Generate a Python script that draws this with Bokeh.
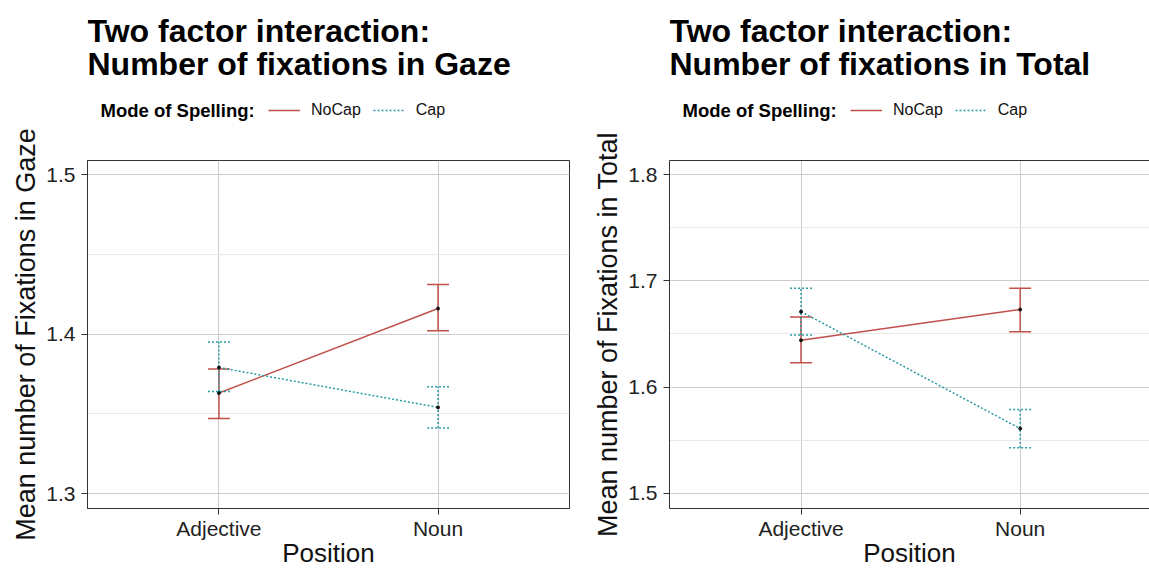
from bokeh.plotting import figure
from bokeh.models import (ColumnDataSource, Range1d, FixedTicker, Label, Legend,
                          LegendItem, LinearAxis)
from bokeh.layouts import row, column
from bokeh.embed import file_html
from bokeh.resources import INLINE

# ---- data -------------------------------------------------------------
positions = ["Adjective", "Noun"]
modes = ["NoCap", "Cap"]

gaze_nocap_mean = [1.363, 1.416]
gaze_nocap_lower = [1.347, 1.402]
gaze_nocap_upper = [1.378, 1.431]
gaze_cap_mean = [1.379, 1.354]
gaze_cap_lower = [1.364, 1.341]
gaze_cap_upper = [1.395, 1.367]

total_nocap_mean = [1.644, 1.673]
total_nocap_lower = [1.623, 1.652]
total_nocap_upper = [1.666, 1.693]
total_cap_mean = [1.671, 1.561]
total_cap_lower = [1.649, 1.543]
total_cap_upper = [1.693, 1.579]

gaze_ticks = [1.3, 1.4, 1.5]
gaze_minor = [1.35, 1.45]
total_ticks = [1.5, 1.6, 1.7, 1.8]
total_minor = [1.55, 1.65, 1.75]

# ---- styling ------------------------------------------------------------
FONT = "Liberation Sans"
RED = "#C1504A"
TEAL = "#2A9AA3"
DARK = "#333333"
MAJOR_GRID = "#cdcdcd"
MINOR_GRID = "#e8e8e8"
CAP_HALF = 0.05
HEADER_H = 127
STYLES = [(RED, "solid"), (TEAL, "2 2")]
XS = [i + 1 for i in range(len(positions))]


def header(title2, width, series):
    """Two-line title and the horizontal 'Mode of Spelling' key."""
    h = figure(width=width, height=HEADER_H, output_backend="svg",
               toolbar_location=None, title_location=None,
               x_axis_type=None, y_axis_type=None,
               x_range=Range1d(10, 11), y_range=Range1d(0, 1), min_border=0)
    h.outline_line_color = None
    h.grid.visible = False
    h.background_fill_color = "white"
    h.border_fill_color = "white"

    for text, mid in (("Two factor interaction:", 30), (title2, 63.5)):
        h.add_layout(Label(x=0, y=HEADER_H - mid, x_units="screen",
                           y_units="screen", text=text, text_font=FONT,
                           text_font_size="32px", text_font_style="bold",
                           text_color="black", text_baseline="middle"))

    h.add_layout(Label(x=13, y=HEADER_H - 110.4, x_units="screen",
                       y_units="screen", text="Mode of Spelling:", text_font=FONT,
                       text_font_size="18.5px", text_font_style="bold",
                       text_color="black", text_baseline="middle"))

    # key lines: same series, outside this strip's visible x range
    keys = [h.line(x=XS, y=mean, line_color=c, line_width=1.5, line_dash=d)
            for (mean, _, _), (c, d) in zip(series, STYLES)]
    legend = Legend(items=[LegendItem(label=m, renderers=[r]) for m, r in zip(modes, keys)],
                    orientation="horizontal",
                    location=(181, HEADER_H - 120),
                    padding=0, margin=0, spacing=12, label_standoff=11,
                    glyph_width=32, glyph_height=20, label_height=20,
                    background_fill_alpha=0, border_line_color=None,
                    label_text_font=FONT, label_text_font_size="16px",
                    label_text_color="#111111")
    h.add_layout(legend)
    return h


def draw_series(p, mean, lower, upper, color, dash):
    src = ColumnDataSource(dict(
        x=XS, mean=mean, lower=lower, upper=upper,
        xl=[x - CAP_HALF for x in XS], xr=[x + CAP_HALF for x in XS]))
    kw = dict(source=src, line_color=color, line_width=1.5, line_dash=dash)
    p.segment(x0="x", y0="lower", x1="x", y1="upper", **kw)
    p.segment(x0="xl", y0="upper", x1="xr", y1="upper", **kw)
    p.segment(x0="xl", y0="lower", x1="xr", y1="lower", **kw)
    p.line(x="x", y="mean", **kw)
    p.scatter(x="x", y="mean", source=src, size=3, color="#111111")


def panel(ylabel, series, y_start, y_end, ticks, minor,
          width, border_left, border_right, x_end, boxed):
    p = figure(width=width, height=570 - HEADER_H, output_backend="svg",
               toolbar_location=None, title_location=None,
               x_range=Range1d(0.4, x_end), y_range=Range1d(y_start, y_end),
               min_border_left=border_left, min_border_right=border_right,
               min_border_top=160 - HEADER_H, min_border_bottom=62)
    p.background_fill_color = "white"
    p.border_fill_color = "white"
    if boxed:
        p.outline_line_color = DARK
    else:
        # open on the right: draw only the top edge besides the two axes
        p.outline_line_color = None
        top = LinearAxis(ticker=FixedTicker(ticks=[]),
                         major_label_text_font_size="0px",
                         major_tick_in=0, major_tick_out=0,
                         minor_tick_in=0, minor_tick_out=0,
                         major_label_standoff=0,
                         major_tick_line_color=None,
                         minor_tick_line_color=None,
                         axis_line_color=DARK)
        p.add_layout(top, "above")

    xaxis = p.below[0]
    yaxis = p.left[0]
    xaxis.ticker = FixedTicker(ticks=XS)
    xaxis.major_label_overrides = {x: name for x, name in zip(XS, positions)}
    yaxis.ticker = FixedTicker(ticks=ticks, minor_ticks=minor)
    for ax in (xaxis, yaxis):
        ax.axis_line_color = DARK
        ax.major_tick_line_color = DARK
        ax.major_tick_in = 0
        ax.major_tick_out = 6
        ax.minor_tick_line_color = None
        ax.major_label_text_font = FONT
        ax.major_label_text_font_size = "21px"
        ax.major_label_text_color = "#222222"
        ax.axis_label_text_font = FONT
        ax.axis_label_text_font_style = "normal"
        ax.axis_label_text_color = "#111111"
    xaxis.axis_label_text_font_size = "26px"
    yaxis.axis_label_text_font_size = "27px"
    xaxis.axis_label = "Position"
    yaxis.axis_label = ylabel
    xaxis.major_label_standoff = 2
    xaxis.axis_label_standoff = -5
    yaxis.major_label_standoff = 6
    yaxis.axis_label_standoff = 2

    p.xgrid.ticker = FixedTicker(ticks=XS)
    p.xgrid.grid_line_color = MAJOR_GRID
    p.ygrid.ticker = FixedTicker(ticks=ticks, minor_ticks=minor)
    p.ygrid.grid_line_color = MAJOR_GRID
    p.ygrid.minor_grid_line_color = MINOR_GRID

    # NoCap first, Cap drawn on top
    for (mean, lower, upper), (color, dash) in zip(series, STYLES):
        draw_series(p, mean, lower, upper, color, dash)
    return p


gaze = [(gaze_nocap_mean, gaze_nocap_lower, gaze_nocap_upper),
        (gaze_cap_mean, gaze_cap_lower, gaze_cap_upper)]
total = [(total_nocap_mean, total_nocap_lower, total_nocap_upper),
         (total_cap_mean, total_cap_lower, total_cap_upper)]

left = column(
    header("Number of fixations in Gaze", 581, gaze),
    panel("Mean number of Fixations in Gaze", gaze, 1.2906, 1.5088,
          gaze_ticks, gaze_minor, width=581, border_left=87, border_right=12,
          x_end=2.6, boxed=True))

right = column(
    header("Number of fixations in Total", 568, total),
    panel("Mean number of Fixations in Total", total, 1.4858, 1.8132,
          total_ticks, total_minor, width=568, border_left=88, border_right=0,
          x_end=2.59, boxed=False))

layout = row(left, right)
open("out.html", "w").write(file_html(layout, INLINE))
